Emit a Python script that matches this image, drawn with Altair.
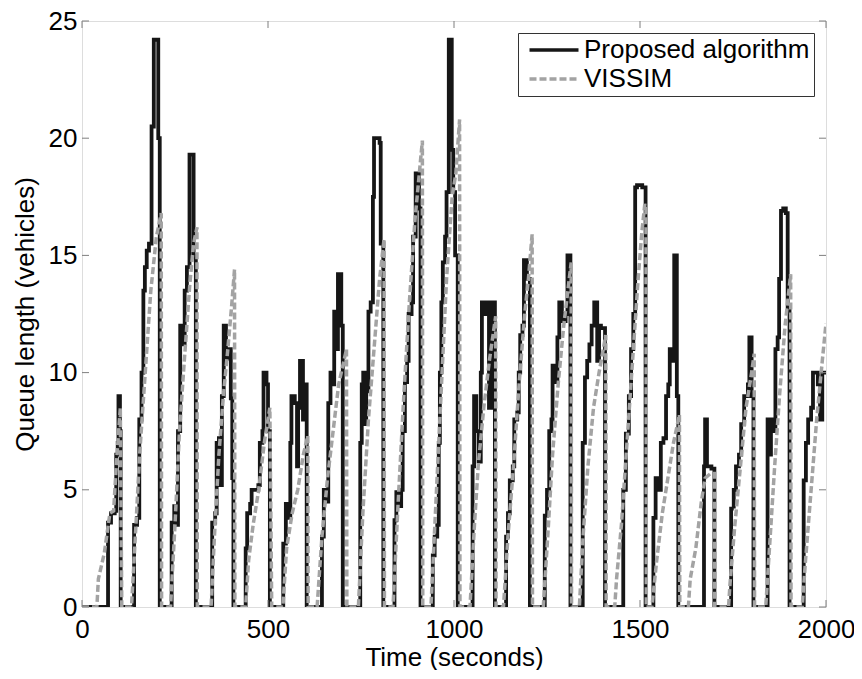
import altair as alt
import pandas as pd

# Proposed algorithm (step series): change times (s) and queue lengths (vehicles)
black_t = [0, 70, 78, 88, 92, 96, 98, 102, 104,
           140, 148, 154, 160, 165, 169, 174, 180, 187, 193, 205, 209,
           241, 248, 253, 258, 264, 270, 276, 282, 289, 300, 306,
           350, 358, 362, 368, 372, 376, 381, 387, 393, 400, 404, 407,
           440, 444, 452, 456, 474, 478, 485, 488, 496, 500, 505,
           541, 548, 556, 560, 563, 572, 578, 581, 586, 594, 598, 604,
           645, 650, 658, 662, 668, 674, 678, 684, 688, 697, 701,
           748, 752, 756, 760, 764, 770, 776, 782, 785, 800, 803, 810,
           840, 845, 852, 858, 862, 868, 874, 878, 886, 890, 897, 906, 910,
           943, 948, 955, 959, 962, 966, 970, 976, 980, 986, 994, 998, 1003, 1010,
           1050, 1054, 1060, 1066, 1072, 1075, 1082, 1088, 1094, 1100, 1110,
           1140, 1145, 1150, 1158, 1162, 1170, 1174, 1178, 1184, 1188, 1196, 1204,
           1244, 1250, 1256, 1262, 1265, 1272, 1278, 1283, 1290, 1300, 1305, 1313,
           1346, 1352, 1358, 1364, 1370, 1377, 1385, 1390, 1395, 1406,
           1455, 1462, 1470, 1476, 1482, 1487, 1492, 1506, 1515,
           1536, 1542, 1550, 1556, 1563, 1570, 1576, 1580, 1588, 1592, 1599, 1603,
           1672, 1675, 1680, 1688, 1692, 1700,
           1745, 1752, 1758, 1766, 1772, 1780, 1790, 1794, 1800, 1805,
           1843, 1848, 1852, 1858, 1864, 1870, 1874, 1879, 1885, 1892, 1897, 1902,
           1940, 1946, 1952, 1960, 1965, 1978, 1984, 1990, 2000]
black_q = [0, 3.6, 4, 4.1, 6.5, 7, 9, 7.5, 0,
           3.5, 3.8, 8, 10, 13.5, 14.5, 15.2, 15.5, 20.5, 24.2, 20, 0,
           3.6, 4.3, 3.5, 7.5, 12, 11.2, 13.5, 14.5, 19.3, 15, 0,
           3.6, 4, 7, 7.2, 5.2, 9, 12, 10.6, 11, 8.9, 5.5, 0,
           2.5, 4, 4.4, 5, 5.2, 7, 7.5, 10, 9.5, 7.5, 0,
           2.7, 4.4, 3.8, 7, 9, 8.7, 6, 8.5, 10.5, 8, 9.5, 0,
           3, 5, 4.5, 8.7, 10, 9.5, 12.6, 11, 14.2, 12, 0,
           7, 9.5, 10, 7.8, 9.2, 12.6, 13, 17.5, 20, 19.8, 15.5, 0,
           3.7, 4.9, 4.3, 5, 7.5, 9.6, 10.5, 12.5, 13, 15.8, 18.5, 17, 0,
           2.2, 3, 3.5, 7, 10, 13, 14.7, 15.8, 17.7, 24.2, 19.5, 17.7, 15, 0,
           6, 9, 7.5, 6.2, 10, 13, 12.5, 13, 8.5, 13, 0,
           3, 4, 5.4, 6, 8, 8.3, 10, 11.6, 12, 14.8, 14, 0,
           3.9, 5, 7.5, 8, 10.3, 9.6, 11.5, 13, 12.2, 12.5, 15, 0,
           7, 9.8, 10.5, 11.2, 12, 13, 10.5, 12, 11.9, 0,
           5, 7.4, 9, 11, 12.5, 17.9, 18, 17.9, 0,
           3.8, 5.5, 5, 7, 7.2, 9, 9.5, 11, 10.5, 15, 9, 0,
           6, 8, 6, 6, 5.9, 0,
           4.2, 5, 6, 6.5, 7.8, 9, 9.5, 11.5, 9, 0,
           8, 6.5, 8, 7.5, 11, 11.5, 14, 16.9, 17, 16.8, 12.8, 0,
           5.4, 7, 8, 8.5, 10, 9.5, 8, 10, 10]

# VISSIM (ramps with near-vertical drops)
gray_t = [0, 40, 44, 60, 75, 85, 92, 103, 107,
          133, 140, 155, 170, 185, 200, 213, 214,
          238, 250, 262, 275, 290, 300, 309, 310,
          347, 356, 368, 380, 392, 402, 410, 411,
          440, 448, 460, 475, 490, 505, 510,
          540, 550, 565, 580, 595, 607, 608,
          632, 645, 660, 675, 690, 711, 712,
          743, 755, 770, 785, 800, 812, 813,
          836, 850, 865, 880, 895, 915, 916,
          938, 950, 965, 980, 995, 1005, 1015, 1016,
          1043, 1055, 1065, 1080, 1095, 1112, 1113,
          1133, 1145, 1160, 1175, 1190, 1200, 1210, 1211,
          1240, 1252, 1265, 1280, 1295, 1315, 1316,
          1337, 1347, 1360, 1375, 1390, 1408, 1409,
          1432, 1437, 1450, 1465, 1480, 1495, 1505, 1513, 1516, 1517,
          1532, 1545, 1560, 1575, 1590, 1606, 1607,
          1630, 1635, 1650, 1665, 1675, 1690, 1700, 1701,
          1738, 1742, 1755, 1770, 1785, 1800, 1807, 1808,
          1838, 1850, 1862, 1875, 1890, 1905, 1906,
          1936, 1945, 1960, 1975, 1990, 2000]
gray_q = [0, 0, 1.2, 2.3, 4, 4.1, 6, 8.5, 0,
          0, 2, 6.5, 10, 13.5, 15.8, 16.8, 0,
          0, 3.5, 7.5, 10.5, 13.8, 15.5, 16.2, 0,
          0, 3, 6.5, 9, 11, 12.8, 14.4, 0,
          0, 2, 3.5, 5, 7, 8.5, 0,
          0, 2.5, 4, 5, 6.5, 7.3, 0,
          0, 3, 5.5, 7.5, 9.5, 11, 0,
          0, 4, 8, 11, 14, 15.7, 0,
          0, 4.5, 9, 13, 16.5, 19.9, 0,
          0, 4, 9, 14, 17.5, 18.5, 20.8, 0,
          0, 3.5, 6, 8.5, 10.5, 12.4, 0,
          0, 3, 6, 9.5, 12.5, 14, 15.9, 0,
          0, 3, 6.5, 9.5, 12, 14.7, 0,
          0, 3, 6, 8.5, 10, 11.6, 0,
          0, 1.2, 3.5, 7, 10.5, 14, 16, 17.2, 17, 0,
          0, 2, 4, 5.5, 7, 8.2, 0,
          0, 1.2, 2.5, 4.5, 5.5, 5.7, 5.7, 0,
          0, 1, 3.5, 6, 8.5, 10, 10.8, 0,
          0, 3, 6, 9, 12, 14.2, 0,
          0, 2, 5, 8, 10.5, 12.1]

series_names = ["Proposed algorithm", "VISSIM"]
series_colors = ["#161616", "#a3a3a3"]
series_dash = [[1, 0], [7, 3]]
x_ticks = [0, 500, 1000, 1500, 2000]
y_ticks = [0, 5, 10, 15, 20, 25]

W, H = 744, 586
FONT = "Liberation Sans"
FRAME = "#7f7f7f"

black_df = pd.DataFrame({"t": black_t, "q": black_q, "series": series_names[0]})
gray_df = pd.DataFrame({"t": gray_t, "q": gray_q, "series": series_names[1]})
xt_df = pd.DataFrame({"v": x_ticks})
yt_df = pd.DataFrame({"v": y_ticks})

x_scale = alt.Scale(domain=[0, 2000], nice=False, zero=False)
y_scale = alt.Scale(domain=[0, 25], nice=False)

x_enc = alt.X("t:Q", scale=x_scale,
              axis=alt.Axis(values=x_ticks, format="d", title="Time (seconds)",
                            grid=False, ticks=False, domain=False, labelPadding=9,
                            titlePadding=2, labelFontSize=26, titleFontSize=26,
                            labelFont=FONT, titleFont=FONT, labelColor="black",
                            titleColor="black", titleFontWeight="normal",
                            labelFlush=False))
y_enc = alt.Y("q:Q", scale=y_scale,
              axis=alt.Axis(values=y_ticks, title="Queue length (vehicles)",
                            grid=False, ticks=False, domain=False, labelPadding=5,
                            titlePadding=10, labelFontSize=26, titleFontSize=26,
                            labelFont=FONT, titleFont=FONT, labelColor="black",
                            titleColor="black", titleFontWeight="normal",
                            labelFlush=False))

color_enc = alt.Color("series:N",
                      scale=alt.Scale(domain=series_names, range=series_colors),
                      legend=alt.Legend(title=None, orient="top-right", offset=12,
                                        symbolType="M-3.5,0H3.5",
                                        symbolStrokeWidth=3.5, symbolSize=196,
                                        symbolOffset=19, labelOffset=17,
                                        labelFontSize=26, labelFont=FONT,
                                        labelColor="black", strokeColor="#333333",
                                        fillColor="white", padding=4,
                                        rowPadding=3, labelLimit=400))
dash_enc = alt.StrokeDash("series:N",
                          scale=alt.Scale(domain=series_names, range=series_dash),
                          legend=alt.Legend(title=None))

black_layer = alt.Chart(black_df).mark_line(
    interpolate="step-after", strokeWidth=3.8, clip=True
).encode(x=x_enc, y=y_enc, color=color_enc, strokeDash=dash_enc)

gray_layer = alt.Chart(gray_df).mark_line(
    strokeWidth=3.5, clip=True
).encode(x=x_enc, y=y_enc, color=color_enc, strokeDash=dash_enc)

tick_len = 7
xb = alt.Chart(xt_df).mark_rule(color=FRAME, strokeWidth=1).encode(
    x=alt.X("v:Q", scale=x_scale), y=alt.value(H), y2=alt.value(H - tick_len))
xtop = alt.Chart(xt_df).mark_rule(color=FRAME, strokeWidth=1).encode(
    x=alt.X("v:Q", scale=x_scale), y=alt.value(0), y2=alt.value(tick_len))
yl = alt.Chart(yt_df).mark_rule(color=FRAME, strokeWidth=1).encode(
    y=alt.Y("v:Q", scale=y_scale), x=alt.value(0), x2=alt.value(tick_len))
yr = alt.Chart(yt_df).mark_rule(color=FRAME, strokeWidth=1).encode(
    y=alt.Y("v:Q", scale=y_scale), x=alt.value(W), x2=alt.value(W - tick_len))

chart = alt.layer(black_layer, gray_layer, xb, xtop, yl, yr).properties(
    width=W, height=H,
    autosize=alt.AutoSizeParams(type="none"),
    padding={"left": 74, "top": 13, "right": 28, "bottom": 63},
).configure_view(
    stroke=FRAME, strokeWidth=1.2
).configure(background="white")

chart.save("out.html", embed_options={"renderer": "svg", "actions": False})
